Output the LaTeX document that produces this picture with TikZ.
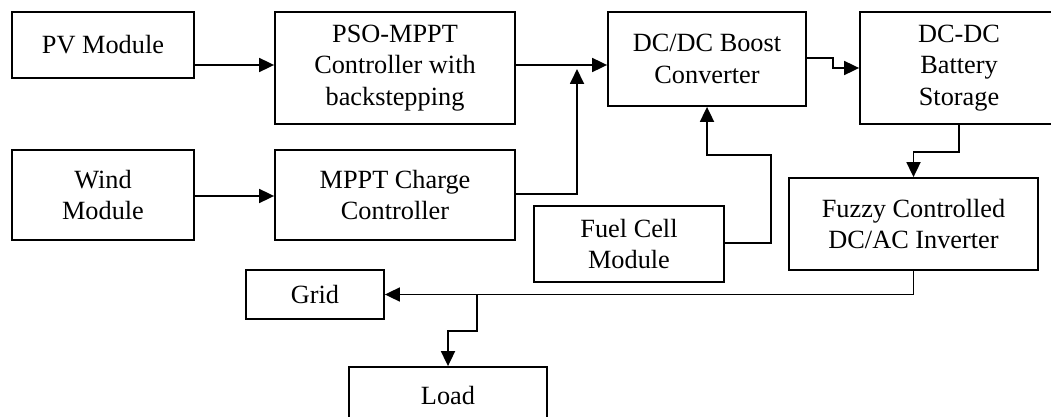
\documentclass[tikz,border=0pt]{standalone}
\usepackage{fontspec}
\setmainfont{Liberation Serif}
\usetikzlibrary{arrows.meta}
\begin{document}
\begin{tikzpicture}[x=1pt,y=-1pt,
  blk/.style={draw, line width=1.8pt, rectangle, inner sep=0pt, align=center,
    font=\fontsize{26.3}{31.5}\selectfont},
  arr/.style={line width=1.8pt, -{Triangle[length=15pt,width=14pt]}},
  ln/.style={line width=1.8pt}]
\useasboundingbox (0,0) rectangle (1051,417);
\node[blk, minimum width=182pt, minimum height=66pt] (PV) at (103,45) {PV Module};
\node[blk, minimum width=240pt, minimum height=112pt] (PSO) at (395,68) {PSO-MPPT\\Controller with\\backstepping};
\node[blk, minimum width=182pt, minimum height=90pt] (Wind) at (103,195) {Wind\\Module};
\node[blk, minimum width=240pt, minimum height=90pt] (MPPT) at (395,195) {MPPT Charge\\Controller};
\node[blk, minimum width=198pt, minimum height=94pt] (DCDC) at (707,59) {DC/DC Boost\\Converter};
\node[blk, minimum width=198pt, minimum height=112pt] (Bat) at (959,68) {DC-DC\\Battery\\Storage};
\node[blk, minimum width=190pt, minimum height=76pt] (Fuel) at (629,244) {Fuel Cell\\Module};
\node[blk, minimum width=249pt, minimum height=92pt] (Fuzzy) at (913.5,224) {Fuzzy Controlled\\DC/AC Inverter};
\node[blk, minimum width=138pt, minimum height=49pt] (Grid) at (315,294.5) {Grid};
\node[blk, minimum width=198pt, minimum height=56pt] (Load) at (448,395) {Load};
\coordinate (j1) at (577,69);
\coordinate (j2) at (477,294.5);
\draw[arr] (PV.east |- 0,65) -- (PSO.west |- 0,65);
\draw[arr] (Wind.east |- 0,196) -- (MPPT.west |- 0,196);
\draw[arr] (PSO.east |- 0,65) -- (DCDC.west |- 0,65);
\draw[arr] (MPPT.east |- 0,194) -| (j1);
\draw[arr] (DCDC.east |- 0,58) -- (833,58) -- (833,68) -- (Bat.west |- 0,68);
\draw[arr] (Bat.south) -- ++(0,27) -| (Fuzzy.north);
\draw[arr] (Fuel.east |- 0,243) -- (771,243) -- (771,155) -- (DCDC.south |- 0,155) -- (DCDC.south);
\draw[arr] (Fuzzy.south) |- (Grid.east);
\draw[arr] (j2) -- (477,331) -| (Load.north);
\end{tikzpicture}
\end{document}
